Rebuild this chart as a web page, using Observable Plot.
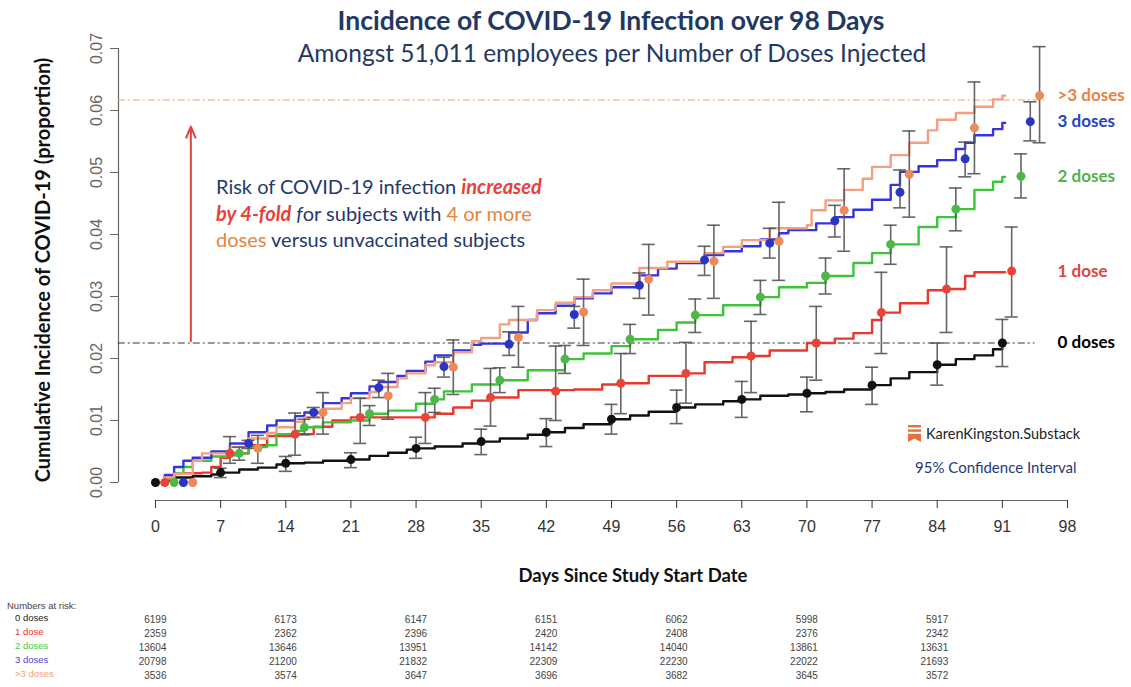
<!DOCTYPE html>
<html><head><meta charset="utf-8">
<script src="https://cdn.jsdelivr.net/npm/d3@7"></script>
<script src="https://cdn.jsdelivr.net/npm/@observablehq/plot@0.6"></script>
<style>
html,body{margin:0;padding:0;background:#fff;overflow:hidden}
#wrap{position:relative;width:1131px;height:687px;font-family:Lato,"Open Sans",sans-serif}
#wrap svg{position:absolute;left:0;top:0}
.abs{position:absolute;white-space:nowrap}
.ctr{transform:translate(-50%,-50%)}
.risk{font-family:"Liberation Sans",Arial,sans-serif;font-size:9.5px;color:#444;transform:translateY(-50%)}
</style></head><body><div id="wrap"></div>
<script>
// ---------- data ----------
const groups = ["0 doses", "1 dose", "2 doses", "3 doses", ">3 doses"];
const xTicks = [0, 7, 14, 21, 28, 35, 42, 49, 56, 63, 70, 77, 84, 91, 98];
const yTicks = [0, 0.01, 0.02, 0.03, 0.04, 0.05, 0.06, 0.07];
const pointDays = [0, 7, 14, 21, 28, 35, 42, 49, 56, 63, 70, 77, 84, 91];

// cumulative incidence estimates and 95% CI at each weekly time point
const est0 = [0, .0016, .0031, .0037, .0055, .0066, .0081, .0102, .0121, .0134, .0144, .0157, .0190, .0225];
const lo0  = [null, .0008, .0018, .0024, .0039, .0045, .0058, .0078, .0095, .0105, .0114, .0126, .0157, .0187];
const hi0  = [null, .0023, .0042, .0048, .0073, .0086, .0103, .0126, .0149, .0163, .0170, .0186, .0225, .0263];
const est1 = [0, .0047, .0078, .0105, .0105, .0137, .0147, .0160, .0176, .0204, .0225, .0274, .0312, .0341];
const lo1  = [null, .0031, .0044, .0063, .0063, .0091, .0100, .0111, .0128, .0145, .0165, .0208, .0242, .0267];
const hi1  = [null, .0074, .0112, .0136, .0145, .0184, .0220, .0208, .0226, .0260, .0284, .0339, .0380, .0412];
const est2 = [0, .0047, .0089, .0111, .0134, .0165, .0199, .0231, .0270, .0299, .0333, .0384, .0441, .0494];
const lo2  = [null, .0036, .0077, .0092, .0113, .0145, .0176, .0208, .0242, .0271, .0304, .0352, .0406, .0459];
const hi2  = [null, .0057, .0102, .0124, .0152, .0185, .0221, .0255, .0296, .0326, .0362, .0415, .0475, .0530];
const est3 = [0, .0063, .0113, .0153, .0187, .0223, .0271, .0318, .0359, .0386, .0422, .0468, .0522, .0582];
const lo3  = [null, .0055, .0105, .0137, .0170, .0205, .0249, .0297, .0334, .0362, .0396, .0443, .0493, .0551];
const hi3  = [null, .0068, .0121, .0165, .0202, .0243, .0284, .0338, .0381, .0410, .0447, .0504, .0549, .0614];
const est4 = [0, .0055, .0113, .0140, .0186, .0234, .0275, .0328, .0357, .0389, .0439, .0497, .0572, .0624];
const lo4  = [null, .0031, .0078, .0102, .0142, .0186, .0221, .0270, .0297, .0326, .0373, .0428, .0498, .0548];
const hi4  = [null, .0076, .0145, .0176, .0230, .0284, .0328, .0384, .0415, .0452, .0506, .0567, .0646, .0703];

// step curves [day, cumulative incidence]
const steps0 = [[0,0],[1,.0003],[2,.0008],[4,.0010],[6,.0013],[7,.0016],[9,.0021],[11,.0024],[13,.0029],[14,.0031],[16,.0032],[18,.0035],[21,.0037],[23,.0043],[25,.0048],[27,.0053],[28,.0055],[30,.0058],[33,.0063],[35,.0066],[37,.0071],[40,.0077],[42,.0081],[44,.0088],[46,.0094],[49,.0102],[51,.0108],[53,.0114],[56,.0121],[58,.0126],[61,.0131],[63,.0134],[65,.0140],[68,.0142],[70,.0144],[72,.0146],[74,.0150],[77,.0157],[79,.0168],[81,.0178],[84,.0190],[86,.0199],[88,.0205],[90,.0215],[91,.0225],[91.3,.0225]];
const steps1 = [[0,0],[1,.0008],[2,.0015],[5,.0016],[6,.0025],[7,.0040],[8,.0047],[10,.0060],[12,.0075],[15,.0078],[17,.0090],[19,.0100],[21,.0105],[29,.0105],[30,.0111],[32,.0121],[34,.0132],[36,.0137],[39,.0149],[45,.0150],[48,.0158],[50,.0160],[53,.0172],[57,.0176],[59,.0194],[62,.0202],[64,.0204],[66,.0213],[70,.0225],[73,.0232],[75,.0241],[77,.0262],[78,.0274],[80,.0289],[83,.0310],[85,.0312],[87,.0333],[88,.0339],[91.3,.0339]];
const steps2 = [[0,0],[1,.0005],[2,.0015],[3,.0025],[4,.0035],[6,.0042],[8,.0044],[9,.0047],[10,.0057],[12,.0060],[13,.0078],[15,.0083],[16,.0089],[18,.0097],[21,.0100],[23,.0111],[25,.0116],[28,.0127],[30,.0134],[31,.0147],[34,.0158],[37,.0165],[40,.0181],[44,.0199],[46,.0208],[49,.0220],[51,.0231],[54,.0246],[56,.0258],[58,.0270],[61,.0286],[65,.0299],[67,.0315],[70,.0322],[72,.0333],[75,.0354],[77,.0370],[79,.0384],[82,.0412],[84,.0428],[86,.0441],[88,.0472],[90,.0485],[91,.0493],[91.3,.0493]];
const steps3 = [[0,0],[1,.0012],[2,.0025],[3,.0035],[4,.0040],[6,.0050],[8,.0063],[10,.0081],[12,.0092],[13,.0100],[15,.0107],[16,.0113],[18,.0128],[20,.0136],[21,.0144],[23,.0155],[24,.0162],[26,.0172],[27,.0180],[29,.0195],[30,.0205],[32,.0213],[34,.0222],[35,.0224],[38,.0242],[40,.0262],[41,.0273],[43,.0285],[45,.0297],[47,.0305],[49,.0315],[52,.0334],[54,.0345],[56,.0354],[59,.0367],[61,.0373],[63,.0381],[65,.0392],[67,.0402],[68,.0407],[71,.0418],[73,.0428],[75,.0440],[77,.0456],[79,.0480],[80,.0501],[82,.0510],[84,.0520],[86,.0538],[87,.0548],[88,.0560],[90,.0570],[91,.0580],[91.3,.0580]];
const steps4 = [[0,0],[1,.0008],[2,.0014],[4,.0035],[5,.0047],[8,.0057],[10,.0071],[12,.0080],[13,.0089],[15,.0098],[16,.0105],[18,.0119],[20,.0128],[21,.0136],[23,.0146],[24,.0154],[26,.0168],[27,.0176],[29,.0189],[30,.0194],[32,.0210],[34,.0228],[35,.0233],[37,.0255],[38,.0262],[41,.0278],[43,.0290],[45,.0299],[47,.0310],[49,.0321],[52,.0346],[55,.0356],[59,.0370],[61,.0380],[63,.0391],[66,.0410],[70,.0415],[70.5,.0439],[72,.0455],[74,.0472],[76,.0490],[77,.0509],[79,.0528],[81,.0548],[83,.0568],[84,.0585],[86,.0596],[88,.0606],[90,.0618],[91,.0624],[91.3,.0624]];

// numbers at risk
const riskDays = [0, 14, 28, 42, 56, 70, 84];
const risk0 = [6199, 6173, 6147, 6151, 6062, 5998, 5917];
const risk1 = [2359, 2362, 2396, 2420, 2408, 2376, 2342];
const risk2 = [13604, 13646, 13951, 14142, 14040, 13861, 13631];
const risk3 = [20798, 21200, 21832, 22309, 22230, 22022, 21693];
const risk4 = [3536, 3574, 3647, 3696, 3682, 3645, 3572];

// reference levels (final values of 0 doses and >3 doses)
const refLevels = [0.0225, 0.0617];
const arrowSpan = [0.0228, 0.0574];

// ---------- styling ----------
const lineColors = ["#111111", "#e8382e", "#3ec43b", "#3535e0", "#f4a080"];
const dotColors  = ["#111111", "#e8443a", "#4db848", "#2a36c2", "#ec8a58"];
const labelColors = ["#000000", "#e2453a", "#52b04f", "#2a40c8", "#e9823f"];
const riskColors = ["#222", "#e33", "#4c4", "#44d", "#f0a080"];
const dodge = 1; // days between group markers

const estAll = [est0, est1, est2, est3, est4];
const loAll = [lo0, lo1, lo2, lo3, lo4];
const hiAll = [hi0, hi1, hi2, hi3, hi4];
const stepsAll = [steps0, steps1, steps2, steps3, steps4];
const riskAll = [risk0, risk1, risk2, risk3, risk4];

const pts = groups.map((g, i) => pointDays.map((d, j) => ({
  g, i, day: d + i * dodge, v: estAll[i][j], lo: loAll[i][j], hi: hiAll[i][j]
})));
const bars = pts.flat().filter(d => d.lo != null);

const marks = [];
// axes (R style, detached)
marks.push(Plot.ruleX([0], {y1: 0, y2: 0.07, dx: -37, stroke: "#666", strokeWidth: 1.2}));
marks.push(Plot.axisY({ticks: yTicks, tickSize: 8, dx: -37, tickRotate: -90, tickPadding: 9,
  tickFormat: d3.format(".2f"), fontSize: 16, color: "#666", label: null}));
marks.push(Plot.ruleY([0], {x1: 0, x2: 98, dy: 18, stroke: "#666", strokeWidth: 1.2}));
marks.push(Plot.axisX({ticks: xTicks, tickSize: 8, dy: 18, tickPadding: 12, fontSize: 16,
  color: "#333", label: null}));
// reference lines
marks.push(Plot.ruleY([refLevels[0]], {x1: -4, x2: 94.5, stroke: "#333", strokeWidth: 1, strokeDasharray: "7,3,2,3"}));
marks.push(Plot.ruleY([refLevels[1]], {x1: -4, x2: 95.6, stroke: "#f0a06a", strokeWidth: 1, strokeDasharray: "7,3,2,3"}));
// arrow
marks.push(Plot.arrow([{x: 3.8, a: arrowSpan[0], b: arrowSpan[1]}],
  {x1: "x", x2: "x", y1: "a", y2: "b", stroke: "#e0443c", strokeWidth: 2, headLength: 9, headAngle: 45}));
// step curves
groups.forEach((g, i) => marks.push(Plot.line(stepsAll[i],
  {x: d => d[0], y: d => d[1], curve: "step-after", stroke: lineColors[i], strokeWidth: 2.4})));
// error bars
marks.push(Plot.ruleX(bars, {x: "day", y1: "lo", y2: "hi", stroke: "#555", strokeWidth: 1.6, strokeOpacity: 0.9}));
marks.push(Plot.ruleY(bars, {y: "lo", x1: d => d.day - 0.7, x2: d => d.day + 0.7, stroke: "#555", strokeWidth: 1.6, strokeOpacity: 0.9}));
marks.push(Plot.ruleY(bars, {y: "hi", x1: d => d.day - 0.7, x2: d => d.day + 0.7, stroke: "#555", strokeWidth: 1.6, strokeOpacity: 0.9}));
// points
groups.forEach((g, i) => marks.push(Plot.dot(pts[i], {x: "day", y: "v", r: 4.5, fill: dotColors[i], stroke: "none"})));
// series labels at right
groups.forEach((g, i) => marks.push(Plot.text([estAll[i][estAll[i].length - 1]],
  {y: d => d, text: [g], frameAnchor: "right", dx: -10, textAnchor: "start", fill: labelColors[i],
   fontWeight: "bold", fontSize: 17, fontFamily: "Lato, sans-serif"})));
// numbers at risk
groups.forEach((g, i) => marks.push(Plot.text(riskDays.map((d, j) => ({d, n: riskAll[i][j]})),
  {x: "d", text: d => String(d.n), frameAnchor: "bottom", dy: 140 + 14 * i, dx: 11, textAnchor: "end",
   fontSize: 10, fill: "#444", fontFamily: "Liberation Sans, Arial, sans-serif"})));

const chart = Plot.plot({
  width: 1131, height: 687,
  marginTop: 48, marginBottom: 205, marginLeft: 155, marginRight: 64,
  x: {domain: [0, 98]},
  y: {domain: [0, 0.07]},
  style: {fontFamily: "Liberation Sans, Arial, sans-serif", fontSize: "16px", background: "transparent", overflow: "visible"},
  marks
});

const wrap = document.getElementById("wrap");
wrap.appendChild(chart);

const html = `
<div class="abs ctr" style="left:611px;top:20px;font-size:26.5px;font-weight:bold;color:#1f3864">Incidence of COVID-19 Infection over 98 Days</div>
<div class="abs ctr" style="left:612px;top:52px;font-size:24.5px;color:#1f3864">Amongst 51,011 employees per Number of Doses Injected</div>
<div class="abs ctr" style="left:42px;top:270px;transform:translate(-50%,-50%) rotate(-90deg);font-size:20px;font-weight:bold;color:#111">Cumulative Incidence of COVID-19 (proportion)</div>
<div class="abs ctr" style="left:633px;top:575px;font-size:18.5px;font-weight:bold;color:#111">Days Since Study Start Date</div>
<div class="abs" style="left:216px;top:173px;font-size:20px;line-height:26.5px;color:#1f3a6e">Risk of COVID-19 infection <b><i style="color:#e8413a">increased</i></b><br><b><i style="color:#e8413a">by 4-fold</i></b> <i>f</i>or subjects with <span style="color:#e8823a">4 or more</span><br><span style="color:#e8823a">doses</span> versus unvaccinated subjects</div>
<div class="abs" style="left:908px;top:425px;width:13px;height:17px">
 <svg width="13" height="17" viewBox="0 0 13 17"><rect x="0" y="0" width="13" height="2.4" fill="#e8703a"/><rect x="0" y="4.4" width="13" height="2.4" fill="#e8703a"/><path d="M0 8.8 H13 V17 L6.5 13.4 L0 17 Z" fill="#e8703a"/></svg></div>
<div class="abs" style="left:926px;top:433px;transform:translateY(-50%);font-size:14.5px;color:#222">KarenKingston.Substack</div>
<div class="abs" style="left:915px;top:467px;transform:translateY(-50%);font-size:15px;color:#1f3a78">95% Confidence Interval</div>
<div class="abs risk" style="left:7px;top:605px">Numbers at risk:</div>
${groups.map((g, i) => `<div class="abs risk" style="left:15px;top:${617 + 14 * i}px;color:${riskColors[i]}">${g.replace(">", "&gt;")}</div>`).join("")}
`;
wrap.insertAdjacentHTML("beforeend", html);
</script></body></html>
